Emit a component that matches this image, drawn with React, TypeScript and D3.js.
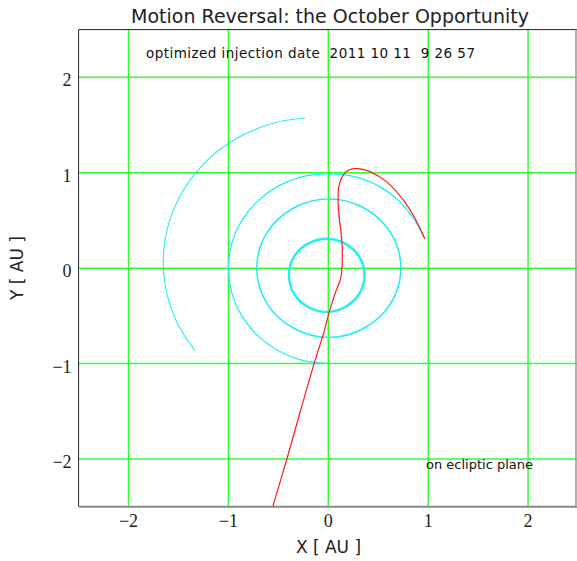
import React from "react";
import * as d3 from "d3";

const W = 577;
const H = 561;

const title = "Motion Reversal: the October Opportunity";
const noteTop = "optimized injection date  2011 10 11  9 26 57";
const noteBottom = "on ecliptic plane";
const xLabel = "X [ AU ]";
const yLabel = "Y [ AU ]";

const xTicks = [-2, -1, 0, 1, 2];
const yTicks = [-2, -1, 0, 1, 2];

// Mercury orbit (closed)
const mercury: [number, number][] = [
  [0.363, -0.075], [0.312, 0.115], [0.173, 0.254], [-0.017, 0.308],
  [-0.207, 0.254], [-0.346, 0.115], [-0.393, -0.075], [-0.346, -0.265],
  [-0.207, -0.404], [-0.017, -0.458], [0.173, -0.404], [0.312, -0.265],
];

// Venus orbit (closed)
const venus: [number, number][] = [
  [0.727, 0], [0.630, 0.361], [0.366, 0.625], [0.005, 0.724],
  [-0.356, 0.625], [-0.620, 0.361], [-0.716, 0], [-0.620, -0.361],
  [-0.356, -0.625], [0.005, -0.727], [0.366, -0.625], [0.630, -0.361],
];

// Earth orbit arc
const earth: [number, number][] = [
  [0.957, 0.324], [0.866, 0.5], [0.707, 0.705], [0.5, 0.862], [0.259, 0.958],
  [0.0, 0.988], [-0.258, 0.958], [-0.497, 0.862], [-0.705, 0.705],
  [-0.865, 0.5], [-0.966, 0.259], [-1.0, 0.0], [-0.966, -0.259],
  [-0.866, -0.5], [-0.707, -0.707], [-0.5, -0.866], [-0.259, -0.966],
  [0.0, -0.998],
];

// Mars orbit arc
const mars: [number, number][] = [
  [-0.232, 1.573], [-0.553, 1.519], [-0.942, 1.345], [-1.272, 1.067],
  [-1.510, 0.704], [-1.636, 0.289], [-1.639, -0.143], [-1.522, -0.554],
  [-1.334, -0.867],
];

// Spacecraft trajectory
const trajectory: [number, number][] = [
  [-0.556, -2.5], [-0.415, -2.0], [-0.28, -1.5], [-0.142, -1.0],
  [-0.052, -0.70], [0.012, -0.45], [0.07, -0.26], [0.12, -0.12],
  [0.135, -0.03], [0.14, 0.1], [0.138, 0.25], [0.125, 0.4],
  [0.108, 0.54], [0.098, 0.715], [0.105, 0.854], [0.132, 0.942],
  [0.182, 1.012], [0.24, 1.04], [0.299, 1.043], [0.416, 1.012],
  [0.583, 0.907], [0.75, 0.715], [0.867, 0.523], [0.967, 0.306],
];

export default function App() {
  const x = d3.scaleLinear().domain([-2.5, 2.5]).range([78.6, 578]);
  const y = d3.scaleLinear().domain([-2.5, 2.5]).range([506.7, 29.6]);
  const [x0, x1] = x.range();
  const [y0, y1] = y.range();

  const open = d3
    .line<[number, number]>()
    .x((d) => x(d[0]))
    .y((d) => y(d[1]))
    .curve(d3.curveCatmullRom.alpha(0.5));
  const closed = d3
    .line<[number, number]>()
    .x((d) => x(d[0]))
    .y((d) => y(d[1]))
    .curve(d3.curveCatmullRomClosed.alpha(0.5));

  const sans = '"DejaVu Sans"';
  const serif = '"Liberation Serif"';
  const grid = "#33ff33";
  const cyan = "#22f0f0";

  return (
    <svg
      width={W}
      height={H}
      style={{ position: "absolute", left: 0, top: 0, background: "#fff" }}
    >
      <rect x={0} y={0} width={W} height={H} fill="#fff" />
      <defs>
        <clipPath id="plot">
          <rect x={x0} y={y1} width={x1 - x0} height={y0 - y1} />
        </clipPath>
      </defs>
      {xTicks.map((t) => (
        <line key={"gx" + t} x1={x(t)} x2={x(t)} y1={y1} y2={y0} stroke={grid} strokeWidth={1.5} />
      ))}
      {yTicks.map((t) => (
        <line key={"gy" + t} x1={x0} x2={x1} y1={y(t)} y2={y(t)} stroke={grid} strokeWidth={1.5} />
      ))}
      <g clipPath="url(#plot)" fill="none">
        <path d={closed(mercury) || ""} stroke={cyan} strokeWidth={2.4} />
        <path d={closed(venus) || ""} stroke={cyan} strokeWidth={1.6} />
        <path d={open(earth) || ""} stroke={cyan} strokeWidth={1.3} />
        <path d={open(mars) || ""} stroke={cyan} strokeWidth={1.1} />
        <path d={open(trajectory) || ""} stroke="#ff1a1a" strokeWidth={1.2} />
      </g>
      {/* frame */}
      <line x1={x0} x2={x0} y1={y1} y2={y0} stroke="#222" strokeWidth={1} />
      <line x1={x0} x2={x1} y1={y1} y2={y1} stroke="#222" strokeWidth={1} />
      <line x1={x0} x2={x1} y1={y0} y2={y0} stroke="#888" strokeWidth={2} />
      <line x1={W - 1} x2={W - 1} y1={y1} y2={y0} stroke="#999" strokeWidth={1.5} />

      {xTicks.map((t) => (
        <text
          key={"tx" + t}
          x={x(t)}
          y={527}
          textAnchor="middle"
          style={{ fontFamily: serif }}
          fontSize={18}
          fill="#222"
        >
          {t < 0 ? "\u2212" + Math.abs(t) : String(t)}
        </text>
      ))}
      {yTicks.map((t) => (
        <text
          key={"ty" + t}
          x={x0 - 7}
          y={y(t) + 9}
          textAnchor="end"
          style={{ fontFamily: serif }}
          fontSize={18}
          fill="#222"
        >
          {t < 0 ? "\u2212" + Math.abs(t) : String(t)}
        </text>
      ))}

      <text x={330} y={23} textAnchor="middle" style={{ fontFamily: sans }} fontSize={19} fill="#222">
        {title}
      </text>
      <text
        x={146}
        y={58}
        style={{ fontFamily: sans, whiteSpace: "pre" }}
        fontSize={13.5}
        fill="#111"
        textLength={329}
        lengthAdjust="spacing"
      >
        {noteTop}
      </text>
      <text x={426} y={469} style={{ fontFamily: sans }} fontSize={13} fill="#111">
        {noteBottom}
      </text>
      <text x={328.5} y={553} textAnchor="middle" style={{ fontFamily: sans }} fontSize={17} fill="#222">
        {xLabel}
      </text>
      <text
        transform={`translate(23, 268) rotate(-90)`}
        textAnchor="middle"
        style={{ fontFamily: sans }}
        fontSize={17}
        fill="#222"
      >
        {yLabel}
      </text>
    </svg>
  );
}
